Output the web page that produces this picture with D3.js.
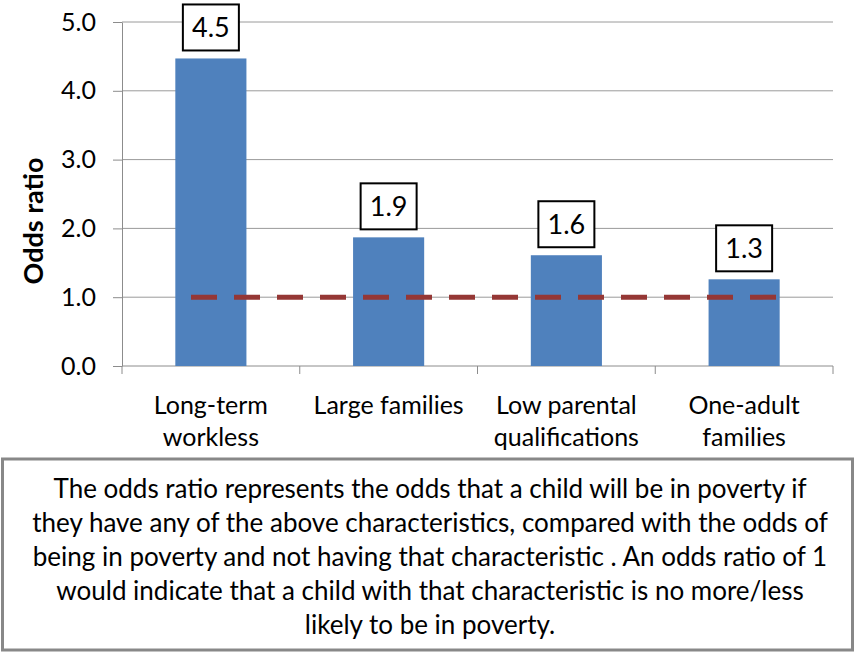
<!DOCTYPE html>
<html>
<head>
<meta charset="utf-8">
<script src="https://cdn.jsdelivr.net/npm/d3@7"></script>
<style>
body { margin: 0; background: #fff; }
text { font-family: Lato, "Open Sans", sans-serif; fill: #000; }
</style>
</head>
<body>
<div class="chart-container"></div>
<script>
// data
categories = [["Long-term", "workless"], ["Large families"], ["Low parental", "qualifications"], ["One-adult", "families"]]
values = [4.47, 1.87, 1.61, 1.26]
yTicks = [0, 1, 2, 3, 4, 5]
refValue = 1.0
note = [
  "The odds ratio represents the odds that a child will be in poverty if",
  "they have any of the above characteristics, compared with the odds of",
  "being in poverty and not having that characteristic . An odds ratio of 1",
  "would indicate that a child with that characteristic is no more/less",
  "likely to be in poverty."
]

svg = d3.select(".chart-container").append("svg").attr('width', 858).attr('height', 653)

// scales
x = d3.scaleBand().domain(d3.range(categories.length)).range([122, 833]).paddingInner(0.6).paddingOuter(0.3)
xb = d3.scaleBand().domain(d3.range(categories.length)).range([122, 833])
y = d3.scaleLinear().domain([0, 5]).range([366, 22])

// gridlines
svg.append('g').selectAll('line').data(yTicks.slice(1)).enter().append('line')
  .attr('x1', 122).attr('x2', 833)
  .attr('y1', d => y(d)).attr('y2', d => y(d))
  .attr('stroke', '#9a9a9a').attr('stroke-width', 1)

// y axis
yAxis = d3.axisLeft(y).tickValues(yTicks).tickFormat(d3.format('.1f')).tickSizeInner(9).tickSizeOuter(0).tickPadding(17)
ya = svg.append('g').attr('transform', 'translate(122,0)').call(yAxis)
ya.select('.domain').attr('stroke', '#8c8c8c')
ya.selectAll('.tick line').attr('stroke', '#8c8c8c')
ya.selectAll('text').style('font-size', '25px').style('font-family', 'Lato, sans-serif').attr('fill', '#000')

// x axis line and ticks at band edges
svg.append('line').attr('x1', 122).attr('x2', 833).attr('y1', y(0)).attr('y2', y(0)).attr('stroke', '#8c8c8c')
edges = d3.range(categories.length + 1).map(i => i < categories.length ? xb(i) : xb(i - 1) + xb.bandwidth())
svg.append('g').selectAll('line').data(edges).enter().append('line')
  .attr('x1', d => d).attr('x2', d => d).attr('y1', y(0)).attr('y2', y(0) + 8).attr('stroke', '#8c8c8c')

// bars
svg.append('g').selectAll('rect').data(values).enter().append('rect')
  .attr('x', (d, i) => x(i)).attr('width', x.bandwidth())
  .attr('y', d => y(d)).attr('height', d => y(0) - y(d))
  .attr('fill', '#4f81bd')

// reference dashed line
svg.append('line')
  .attr('x1', 191).attr('x2', 780)
  .attr('y1', y(refValue)).attr('y2', y(refValue))
  .attr('stroke', '#953735').attr('stroke-width', 5).attr('stroke-dasharray', '26,17')

// value label boxes
lab = svg.append('g').selectAll('g').data(values).enter().append('g')
  .attr('transform', (d, i) => 'translate(' + (x(i) + x.bandwidth() / 2) + ',' + (y(d) - 8) + ')')
lab.append('rect').attr('x', -28).attr('y', -46).attr('width', 56).attr('height', 46)
  .attr('fill', '#fff').attr('stroke', '#000').attr('stroke-width', 2)
lab.append('text').attr('text-anchor', 'middle').attr('y', -13).style('font-size', '27px')
  .text(d => d3.format('.1f')(d))

// category labels
cl = svg.append('g').selectAll('text').data(categories).enter().append('text')
  .attr('text-anchor', 'middle')
  .attr('x', (d, i) => xb(i) + xb.bandwidth() / 2)
  .attr('y', 414).style('font-size', '25px')
cl.selectAll('tspan').data(d => d).enter().append('tspan')
  .attr('x', function() { return d3.select(this.parentNode).attr('x') })
  .attr('dy', (d, i) => i ? 32 : 0)
  .text(d => d)

// y axis title
svg.append('text').attr('transform', 'translate(43,221) rotate(-90)')
  .attr('text-anchor', 'middle').style('font-size', '27px').style('font-weight', 'bold')
  .text('Odds ratio')

// note box
svg.append('rect').attr('x', 2.5).attr('y', 459).attr('width', 850).attr('height', 191)
  .attr('fill', '#fff').attr('stroke', '#888').attr('stroke-width', 3)
svg.append('g').selectAll('text').data(note).enter().append('text')
  .attr('text-anchor', 'middle').attr('x', 430).attr('y', (d, i) => 498 + i * 34)
  .style('font-size', '26px').text(d => d)
</script>
</body>
</html>
